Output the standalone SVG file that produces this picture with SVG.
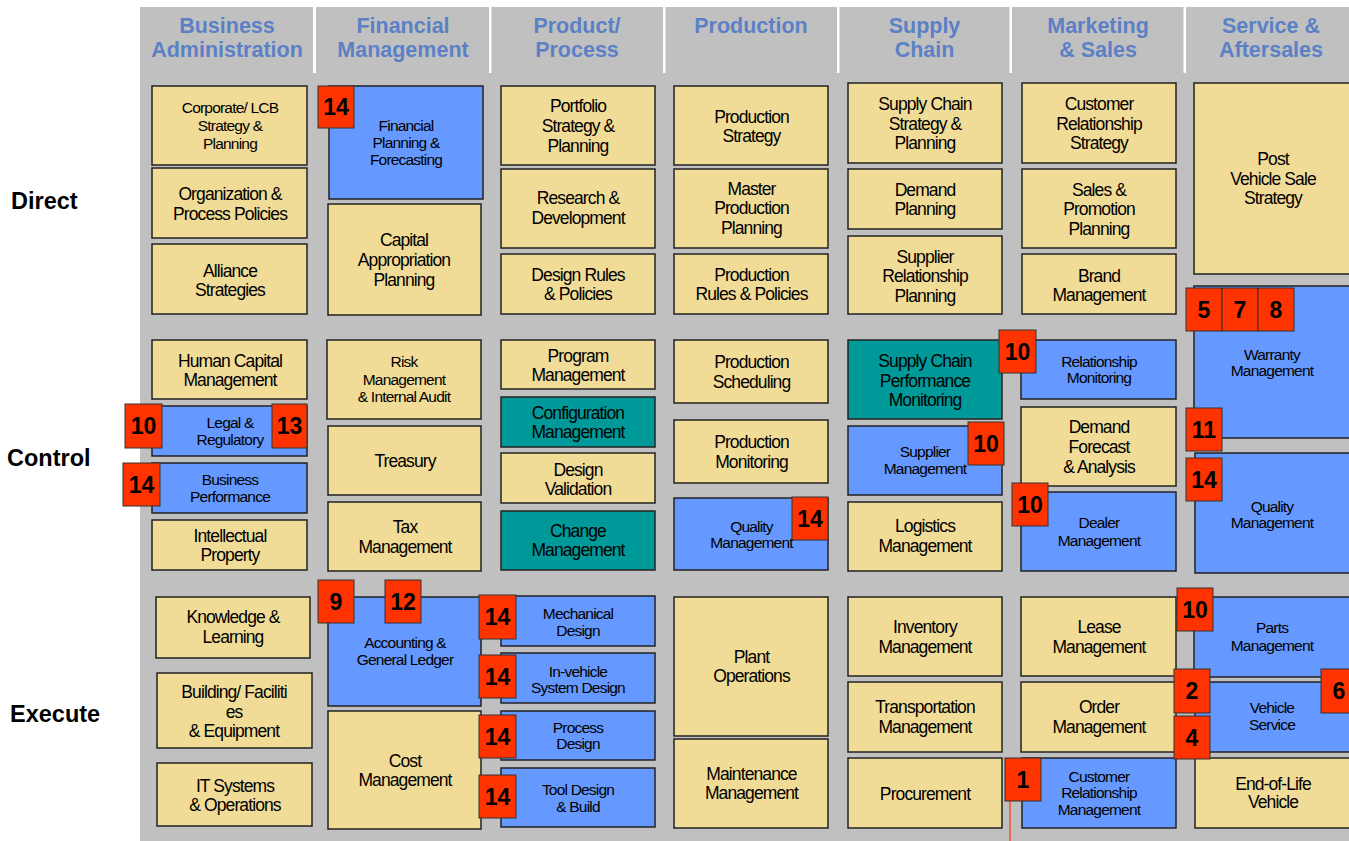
<svg xmlns="http://www.w3.org/2000/svg" width="1349" height="841" viewBox="0 0 1349 841">
<style>
  .bg{fill:#c0c0c0}
  .sep{fill:#ffffff}
  .y{fill:#f1dc97;stroke:#222;stroke-width:1.5}
  .b{fill:#6699ff;stroke:#222;stroke-width:1.5}
  .t{fill:#009999;stroke:#222;stroke-width:1.5}
  .r{fill:#ff3300;stroke:#333;stroke-width:1}
  text{font-family:"Liberation Sans",Arial,sans-serif;fill:#000}
  .hd{font-size:21.5px;font-weight:bold;fill:#5b80c6;text-anchor:middle}
  .rl{font-size:23.5px;font-weight:bold}
  .L{font-size:17.5px;letter-spacing:-0.9px;text-anchor:middle}
  .S{font-size:15.5px;letter-spacing:-0.8px;text-anchor:middle}
  .n{font-size:23px;font-weight:bold;text-anchor:middle}
  .link{stroke:#ff3300;stroke-width:1.2;fill:none}
</style>

<!-- canvas -->
<rect x="0" y="0" width="1349" height="841" fill="#ffffff"/>
<rect class="bg" x="140" y="7" width="1209" height="834"/>

<!-- column headers -->
<g id="headers">
  <rect class="sep" x="313" y="7" width="3" height="66"/>
  <rect class="sep" x="489" y="7" width="2.5" height="66"/>
  <rect class="sep" x="663" y="7" width="2.5" height="66"/>
  <rect class="sep" x="837" y="7" width="2.5" height="66"/>
  <rect class="sep" x="1009.5" y="7" width="2.5" height="66"/>
  <rect class="sep" x="1183.5" y="7" width="2.5" height="66"/>
  <text class="hd" x="227" y="33">Business</text>
  <text class="hd" x="227" y="56.5">Administration</text>
  <text class="hd" x="403" y="33">Financial</text>
  <text class="hd" x="403" y="56.5">Management</text>
  <text class="hd" x="577" y="33">Product/</text>
  <text class="hd" x="577" y="56.5">Process</text>
  <text class="hd" x="751" y="33">Production</text>
  <text class="hd" x="924.5" y="33">Supply</text>
  <text class="hd" x="924.5" y="56.5">Chain</text>
  <text class="hd" x="1098" y="33">Marketing</text>
  <text class="hd" x="1098" y="56.5">&amp; Sales</text>
  <text class="hd" x="1271" y="33">Service &amp;</text>
  <text class="hd" x="1271" y="56.5">Aftersales</text>
</g>

<!-- row labels -->
<g id="row-labels">
  <text class="rl" x="11" y="209">Direct</text>
  <text class="rl" x="7" y="466">Control</text>
  <text class="rl" x="10" y="722">Execute</text>
</g>

<!-- Business Administration -->
<g id="corporate-strategy"><rect class="y" x="152" y="86" width="155" height="79"/>
  <text class="S" x="230" y="113.3">Corporate/ LCB</text><text class="S" x="230" y="131">Strategy &amp;</text><text class="S" x="230" y="149">Planning</text></g>
<g id="organization-policies"><rect class="y" x="152" y="168" width="155" height="70"/>
  <text class="L" x="230" y="200">Organization &amp;</text><text class="L" x="230" y="220">Process Policies</text></g>
<g id="alliance-strategies"><rect class="y" x="152" y="244" width="155" height="70"/>
  <text class="L" x="230" y="276.7">Alliance</text><text class="L" x="230" y="296">Strategies</text></g>
<g id="human-capital"><rect class="y" x="152" y="340" width="155" height="59"/>
  <text class="L" x="230" y="366.7">Human Capital</text><text class="L" x="230" y="386">Management</text></g>
<g id="legal-regulatory"><rect class="b" x="152" y="406" width="155" height="50"/>
  <text class="S" x="230" y="428.3">Legal &amp;</text><text class="S" x="230" y="445">Regulatory</text></g>
<g id="business-performance"><rect class="b" x="152" y="463" width="155" height="50"/>
  <text class="S" x="230" y="485">Business</text><text class="S" x="230" y="501.7">Performance</text></g>
<g id="intellectual-property"><rect class="y" x="152" y="520" width="155" height="50"/>
  <text class="L" x="230" y="541.7">Intellectual</text><text class="L" x="230" y="560.7">Property</text></g>
<g id="knowledge-learning"><rect class="y" x="156" y="597" width="154" height="61"/>
  <text class="L" x="233" y="623.3">Knowledge &amp;</text><text class="L" x="233" y="643.3">Learning</text></g>
<g id="building-facilities"><rect class="y" x="157" y="673" width="155" height="75"/>
  <text class="L" x="234" y="698.3">Building/ Faciliti</text><text class="L" x="234" y="717.7">es</text><text class="L" x="234" y="736.7">&amp; Equipment</text></g>
<g id="it-systems"><rect class="y" x="157" y="763" width="155" height="63"/>
  <text class="L" x="235" y="792.3">IT Systems</text><text class="L" x="235" y="810.7">&amp; Operations</text></g>

<!-- Financial Management -->
<g id="financial-planning"><rect class="b" x="329" y="86" width="154" height="113"/>
  <text class="S" x="406" y="131">Financial</text><text class="S" x="406" y="147.7">Planning &amp;</text><text class="S" x="406" y="165">Forecasting</text></g>
<g id="capital-appropriation"><rect class="y" x="328" y="204" width="153" height="111"/>
  <text class="L" x="404" y="246">Capital</text><text class="L" x="404" y="265.7">Appropriation</text><text class="L" x="404" y="285.7">Planning</text></g>
<g id="risk-audit"><rect class="y" x="327" y="340" width="154" height="79"/>
  <text class="S" x="404" y="366.7">Risk</text><text class="S" x="404" y="385">Management</text><text class="S" x="404" y="402.3">&amp; Internal Audit</text></g>
<g id="treasury"><rect class="y" x="328" y="426" width="153" height="69"/>
  <text class="L" x="405" y="466.7">Treasury</text></g>
<g id="tax-management"><rect class="y" x="328" y="502" width="153" height="69"/>
  <text class="L" x="405" y="533.3">Tax</text><text class="L" x="405" y="552.7">Management</text></g>
<g id="accounting-ledger"><rect class="b" x="328" y="597" width="153" height="109"/>
  <text class="S" x="405" y="648.3">Accounting &amp;</text><text class="S" x="405" y="665">General Ledger</text></g>
<g id="cost-management"><rect class="y" x="328" y="711" width="153" height="118"/>
  <text class="L" x="405" y="766.7">Cost</text><text class="L" x="405" y="785.7">Management</text></g>

<!-- Product / Process -->
<g id="portfolio-strategy"><rect class="y" x="501" y="86" width="154" height="79"/>
  <text class="L" x="578" y="111.7">Portfolio</text><text class="L" x="578" y="131.7">Strategy &amp;</text><text class="L" x="578" y="151.7">Planning</text></g>
<g id="research-development"><rect class="y" x="501" y="169" width="154" height="79"/>
  <text class="L" x="578" y="204">Research &amp;</text><text class="L" x="578" y="224.3">Development</text></g>
<g id="design-rules"><rect class="y" x="501" y="254" width="154" height="60"/>
  <text class="L" x="578" y="281">Design Rules</text><text class="L" x="578" y="300">&amp; Policies</text></g>
<g id="program-management"><rect class="y" x="501" y="340" width="154" height="49"/>
  <text class="L" x="578" y="361.7">Program</text><text class="L" x="578" y="381">Management</text></g>
<g id="configuration-management"><rect class="t" x="501" y="397" width="154" height="50"/>
  <text class="L" x="578" y="419">Configuration</text><text class="L" x="578" y="438.3">Management</text></g>
<g id="design-validation"><rect class="y" x="501" y="453" width="154" height="50"/>
  <text class="L" x="578" y="475.7">Design</text><text class="L" x="578" y="495">Validation</text></g>
<g id="change-management"><rect class="t" x="501" y="511" width="154" height="59"/>
  <text class="L" x="578" y="536.7">Change</text><text class="L" x="578" y="555.7">Management</text></g>
<g id="mechanical-design"><rect class="b" x="501" y="596" width="154" height="50"/>
  <text class="S" x="578" y="619.3">Mechanical</text><text class="S" x="578" y="636">Design</text></g>
<g id="in-vehicle-design"><rect class="b" x="501" y="653" width="154" height="50"/>
  <text class="S" x="578" y="676.7">In-vehicle</text><text class="S" x="578" y="693.3">System Design</text></g>
<g id="process-design"><rect class="b" x="501" y="711" width="154" height="49"/>
  <text class="S" x="578" y="732.7">Process</text><text class="S" x="578" y="749.3">Design</text></g>
<g id="tool-design"><rect class="b" x="501" y="768" width="154" height="59"/>
  <text class="S" x="578" y="795">Tool Design</text><text class="S" x="578" y="811.7">&amp; Build</text></g>

<!-- Production -->
<g id="production-strategy"><rect class="y" x="674" y="86" width="154" height="79"/>
  <text class="L" x="751.5" y="122.7">Production</text><text class="L" x="751.5" y="141.7">Strategy</text></g>
<g id="master-production-planning"><rect class="y" x="674" y="169" width="154" height="79"/>
  <text class="L" x="751.5" y="195">Master</text><text class="L" x="751.5" y="214.3">Production</text><text class="L" x="751.5" y="234.3">Planning</text></g>
<g id="production-rules"><rect class="y" x="674" y="254" width="154" height="60"/>
  <text class="L" x="751.5" y="281">Production</text><text class="L" x="751.5" y="300">Rules &amp; Policies</text></g>
<g id="production-scheduling"><rect class="y" x="674" y="340" width="154" height="63"/>
  <text class="L" x="751.5" y="368.3">Production</text><text class="L" x="751.5" y="387.7">Scheduling</text></g>
<g id="production-monitoring"><rect class="y" x="674" y="420" width="154" height="63"/>
  <text class="L" x="751.5" y="448.3">Production</text><text class="L" x="751.5" y="467.7">Monitoring</text></g>
<g id="production-quality"><rect class="b" x="674" y="498" width="154" height="72"/>
  <text class="S" x="751.5" y="532.3">Quality</text><text class="S" x="751.5" y="548.3">Management</text></g>
<g id="plant-operations"><rect class="y" x="674" y="597" width="154" height="139"/>
  <text class="L" x="751.5" y="662.7">Plant</text><text class="L" x="751.5" y="682.3">Operations</text></g>
<g id="maintenance-management"><rect class="y" x="674" y="739" width="154" height="89"/>
  <text class="L" x="751.5" y="780">Maintenance</text><text class="L" x="751.5" y="799">Management</text></g>

<!-- Supply Chain -->
<g id="supply-chain-strategy"><rect class="y" x="848" y="83" width="154" height="80"/>
  <text class="L" x="925" y="110">Supply Chain</text><text class="L" x="925" y="130">Strategy &amp;</text><text class="L" x="925" y="149.3">Planning</text></g>
<g id="demand-planning"><rect class="y" x="848" y="169" width="154" height="60"/>
  <text class="L" x="925" y="196">Demand</text><text class="L" x="925" y="215">Planning</text></g>
<g id="supplier-relationship-planning"><rect class="y" x="848" y="236" width="154" height="78"/>
  <text class="L" x="925" y="262.7">Supplier</text><text class="L" x="925" y="282.3">Relationship</text><text class="L" x="925" y="301.7">Planning</text></g>
<g id="supply-chain-performance"><rect class="t" x="848" y="340" width="154" height="79"/>
  <text class="L" x="925" y="366.7">Supply Chain</text><text class="L" x="925" y="386.7">Performance</text><text class="L" x="925" y="406">Monitoring</text></g>
<g id="supplier-management"><rect class="b" x="848" y="426" width="154" height="69"/>
  <text class="S" x="925" y="456.7">Supplier</text><text class="S" x="925" y="474">Management</text></g>
<g id="logistics-management"><rect class="y" x="848" y="502" width="154" height="69"/>
  <text class="L" x="925" y="532.3">Logistics</text><text class="L" x="925" y="552.3">Management</text></g>
<g id="inventory-management"><rect class="y" x="848" y="597" width="154" height="79"/>
  <text class="L" x="925" y="633.3">Inventory</text><text class="L" x="925" y="652.7">Management</text></g>
<g id="transportation-management"><rect class="y" x="848" y="682" width="154" height="70"/>
  <text class="L" x="925" y="713.3">Transportation</text><text class="L" x="925" y="733.3">Management</text></g>
<g id="procurement"><rect class="y" x="848" y="758" width="154" height="70"/>
  <text class="L" x="925" y="800">Procurement</text></g>

<!-- Marketing & Sales -->
<g id="customer-relationship-strategy"><rect class="y" x="1022" y="83" width="154" height="80"/>
  <text class="L" x="1099" y="110">Customer</text><text class="L" x="1099" y="130">Relationship</text><text class="L" x="1099" y="149.3">Strategy</text></g>
<g id="sales-promotion"><rect class="y" x="1022" y="169" width="154" height="79"/>
  <text class="L" x="1099" y="196">Sales &amp;</text><text class="L" x="1099" y="215">Promotion</text><text class="L" x="1099" y="235">Planning</text></g>
<g id="brand-management"><rect class="y" x="1022" y="254" width="154" height="60"/>
  <text class="L" x="1099" y="281.7">Brand</text><text class="L" x="1099" y="301">Management</text></g>
<g id="relationship-monitoring"><rect class="b" x="1021" y="340" width="155" height="59"/>
  <text class="S" x="1099" y="366.7">Relationship</text><text class="S" x="1099" y="383.3">Monitoring</text></g>
<g id="demand-forecast"><rect class="y" x="1021" y="407" width="155" height="79"/>
  <text class="L" x="1099" y="433.3">Demand</text><text class="L" x="1099" y="452.7">Forecast</text><text class="L" x="1099" y="472.7">&amp; Analysis</text></g>
<g id="dealer-management"><rect class="b" x="1021" y="492" width="155" height="79"/>
  <text class="S" x="1099" y="528.3">Dealer</text><text class="S" x="1099" y="545.7">Management</text></g>
<g id="lease-management"><rect class="y" x="1021" y="597" width="155" height="79"/>
  <text class="L" x="1099" y="633.3">Lease</text><text class="L" x="1099" y="652.7">Management</text></g>
<g id="order-management"><rect class="y" x="1021" y="682" width="155" height="70"/>
  <text class="L" x="1099" y="713.3">Order</text><text class="L" x="1099" y="733.3">Management</text></g>
<g id="customer-relationship-management"><rect class="b" x="1022" y="758" width="154" height="70"/>
  <text class="S" x="1099" y="781.7">Customer</text><text class="S" x="1099" y="798.3">Relationship</text><text class="S" x="1099" y="815">Management</text></g>

<!-- Service & Aftersales -->
<g id="post-sale-strategy"><rect class="y" x="1194" y="83" width="160" height="191"/>
  <text class="L" x="1273" y="165">Post</text><text class="L" x="1273" y="185">Vehicle Sale</text><text class="L" x="1273" y="204.3">Strategy</text></g>
<g id="warranty-management"><rect class="b" x="1194" y="286" width="160" height="152"/>
  <text class="S" x="1272" y="359.5">Warranty</text><text class="S" x="1272" y="376">Management</text></g>
<g id="service-quality"><rect class="b" x="1195" y="453" width="160" height="120"/>
  <text class="S" x="1272" y="511.7">Quality</text><text class="S" x="1272" y="527.7">Management</text></g>
<g id="parts-management"><rect class="b" x="1194" y="597" width="160" height="80"/>
  <text class="S" x="1272" y="633.3">Parts</text><text class="S" x="1272" y="650.7">Management</text></g>
<g id="vehicle-service"><rect class="b" x="1195" y="682" width="160" height="70"/>
  <text class="S" x="1272" y="713.3">Vehicle</text><text class="S" x="1272" y="730">Service</text></g>
<g id="end-of-life"><rect class="y" x="1195" y="758" width="160" height="70"/>
  <text class="L" x="1273" y="790">End-of-Life</text><text class="L" x="1273" y="808.3">Vehicle</text></g>

<!-- connectors -->
<g id="connectors">
  <line class="link" x1="1010" y1="801" x2="1010" y2="841"/>
</g>

<!-- numbered markers -->
<g id="marker-fin-14"><rect class="r" x="318" y="86" width="36" height="42"/><text class="n" x="336" y="115">14</text></g>
<g id="marker-legal-10"><rect class="r" x="125" y="404" width="37" height="44"/><text class="n" x="143.5" y="434">10</text></g>
<g id="marker-legal-13"><rect class="r" x="272" y="404" width="35" height="44"/><text class="n" x="289.5" y="434">13</text></g>
<g id="marker-perf-14"><rect class="r" x="123" y="463" width="37" height="43"/><text class="n" x="141.5" y="492.5">14</text></g>
<g id="marker-acct-9"><rect class="r" x="318" y="580" width="36" height="43"/><text class="n" x="336" y="609.5">9</text></g>
<g id="marker-acct-12"><rect class="r" x="385" y="580" width="36" height="43"/><text class="n" x="403" y="609.5">12</text></g>
<g id="marker-mech-14"><rect class="r" x="479" y="595" width="37" height="44"/><text class="n" x="497.5" y="625">14</text></g>
<g id="marker-invehicle-14"><rect class="r" x="479" y="655" width="37" height="43"/><text class="n" x="497.5" y="684.5">14</text></g>
<g id="marker-process-14"><rect class="r" x="479" y="715" width="37" height="43"/><text class="n" x="497.5" y="744.5">14</text></g>
<g id="marker-tool-14"><rect class="r" x="479" y="775" width="37" height="43"/><text class="n" x="497.5" y="804.5">14</text></g>
<g id="marker-prodqual-14"><rect class="r" x="792" y="497" width="36" height="43"/><text class="n" x="810" y="526.5">14</text></g>
<g id="marker-scpm-10"><rect class="r" x="999" y="330" width="37" height="43"/><text class="n" x="1017.5" y="359.5">10</text></g>
<g id="marker-supplier-10"><rect class="r" x="968" y="422" width="36" height="43"/><text class="n" x="986" y="451.5">10</text></g>
<g id="marker-dealer-10"><rect class="r" x="1012" y="483" width="36" height="43"/><text class="n" x="1030" y="512.5">10</text></g>
<g id="marker-crm-1"><rect class="r" x="1005" y="758" width="36" height="43"/><text class="n" x="1023" y="787.5">1</text></g>
<g id="marker-warranty-5"><rect class="r" x="1186" y="288" width="36" height="43"/><text class="n" x="1204" y="317.5">5</text></g>
<g id="marker-warranty-7"><rect class="r" x="1222" y="288" width="36" height="43"/><text class="n" x="1240" y="317.5">7</text></g>
<g id="marker-warranty-8"><rect class="r" x="1258" y="288" width="36" height="43"/><text class="n" x="1276" y="317.5">8</text></g>
<g id="marker-warranty-11"><rect class="r" x="1186" y="408" width="36" height="43"/><text class="n" x="1204" y="437.5">11</text></g>
<g id="marker-servqual-14"><rect class="r" x="1186" y="458" width="36" height="43"/><text class="n" x="1204" y="487.5">14</text></g>
<g id="marker-parts-10"><rect class="r" x="1177" y="588" width="36" height="43"/><text class="n" x="1195" y="617.5">10</text></g>
<g id="marker-service-2"><rect class="r" x="1174" y="669" width="36" height="44"/><text class="n" x="1192" y="699">2</text></g>
<g id="marker-service-4"><rect class="r" x="1174" y="716" width="36" height="43"/><text class="n" x="1192" y="745.5">4</text></g>
<g id="marker-service-6"><rect class="r" x="1321" y="669" width="36" height="44"/><text class="n" x="1339" y="699">6</text></g>
</svg>
